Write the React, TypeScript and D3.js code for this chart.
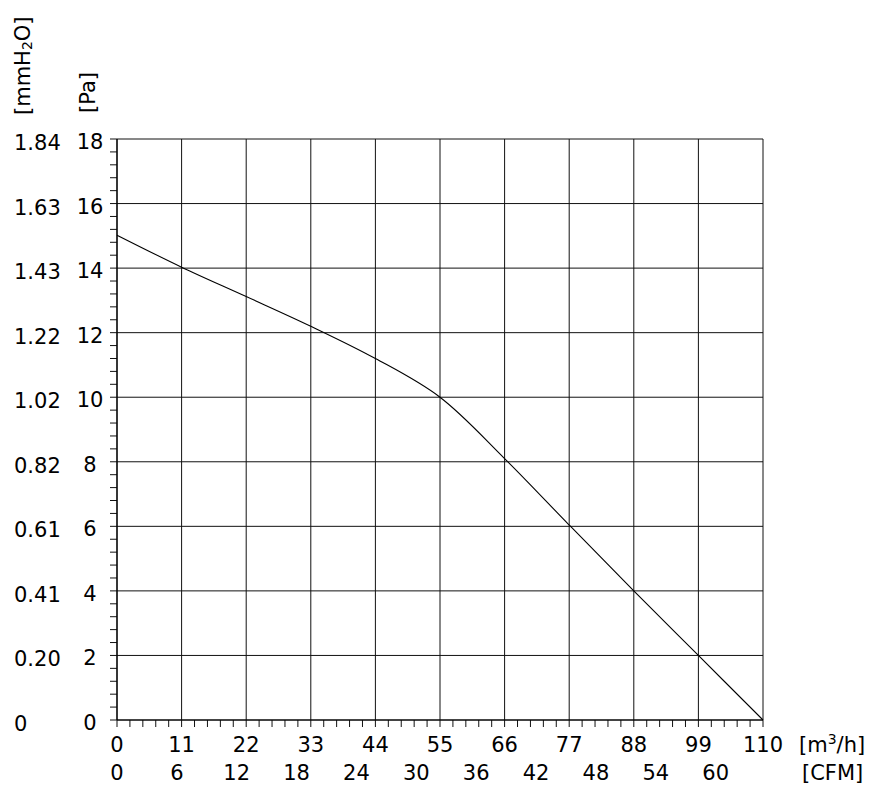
import React from "react";
import * as d3 from "d3";

const flowM3h = [0, 11, 22, 33, 44, 55, 66, 77, 88, 99, 110];
const pressurePa = [15.02, 14.03, 13.12, 12.2, 11.2, 10.0, 8.1, 6.04, 4.0, 2.0, 0];

const xTicksM3h = [0, 11, 22, 33, 44, 55, 66, 77, 88, 99, 110];
const xTicksCFM = [0, 6, 12, 18, 24, 30, 36, 42, 48, 54, 60];
const yTicksPa = [0, 2, 4, 6, 8, 10, 12, 14, 16, 18];
const yLabelsMmH2O = ["0", "0.20", "0.41", "0.61", "0.82", "1.02", "1.22", "1.43", "1.63", "1.84"];

const CFM_TO_M3H = 1.699;

export default function App() {
  const W = 879, H = 791;
  const x = d3.scaleLinear().domain([0, 110]).range([117, 763]);
  const y = d3.scaleLinear().domain([0, 18]).range([720, 139]);
  const font = "'DejaVu Sans', Verdana, sans-serif";
  const fs = 21;

  const minorX = d3.range(0, 110.001, 2.2);
  const minorY = d3.range(0, 18.001, 0.4);

  const line = d3
    .line<number>()
    .x((_, i) => x(flowM3h[i]))
    .y((d) => y(d))
    .curve(d3.curveCatmullRom.alpha(0.5));

  return (
    <svg width={W} height={H} style={{ position: "absolute", left: 0, top: 0 }} fontFamily={font}>
      <rect width={W} height={H} fill="#fff" />
      {/* grid */}
      {xTicksM3h.map((t) => (
        <line key={"gx" + t} x1={x(t)} x2={x(t)} y1={y(18)} y2={y(0)} stroke="#111" strokeWidth={1} />
      ))}
      {yTicksPa.map((t) => (
        <line key={"gy" + t} x1={x(0)} x2={x(110)} y1={y(t)} y2={y(t)} stroke="#111" strokeWidth={1} />
      ))}
      {/* minor ticks */}
      {minorX.map((t, i) => (
        <line key={"mx" + i} x1={x(t)} x2={x(t)} y1={y(0)} y2={y(0) + 7} stroke="#111" strokeWidth={1} />
      ))}
      {minorY.map((t, i) => (
        <line key={"my" + i} x1={x(0) - 7} x2={x(0)} y1={y(t)} y2={y(t)} stroke="#111" strokeWidth={1} />
      ))}
      {/* axes */}
      <line x1={x(0)} x2={x(0)} y1={y(18)} y2={y(0)} stroke="#000" strokeWidth={1.2} />
      <line x1={x(0)} x2={x(110)} y1={y(0)} y2={y(0)} stroke="#000" strokeWidth={1.2} />
      {/* curve */}
      <path d={line(pressurePa) || ""} fill="none" stroke="#000" strokeWidth={1.1} />
      {/* y labels */}
      {yTicksPa.map((t) => (
        <text key={"pa" + t} x={90} y={y(t) + 10} fontSize={fs} textAnchor="middle" fill="#000">
          {t}
        </text>
      ))}
      {yLabelsMmH2O.map((s, i) => (
        <text key={"mm" + i} x={14} y={y(yTicksPa[i]) + 11} fontSize={fs} textAnchor="start" fill="#000">
          {s}
        </text>
      ))}
      {/* x labels */}
      {xTicksM3h.map((t) => (
        <text key={"xm" + t} x={x(t)} y={752} fontSize={fs} textAnchor="middle" fill="#000">
          {t}
        </text>
      ))}
      {xTicksCFM.map((t) => (
        <text key={"xc" + t} x={x(t * CFM_TO_M3H)} y={780} fontSize={fs} textAnchor="middle" fill="#000">
          {t}
        </text>
      ))}
      <text x={799} y={752} fontSize={fs} fill="#000">
        [m<tspan fontSize={14} dy={-8}>3</tspan>
        <tspan dy={8}>/h]</tspan>
      </text>
      <text x={802} y={780} fontSize={fs} fill="#000">
        [CFM]
      </text>
      {/* axis titles */}
      <text transform="translate(30,115) rotate(-90)" fontSize={fs} textAnchor="start" fill="#000">
        [mmH<tspan fontSize={14} dy={2}>2</tspan>
        <tspan dy={-2}>O]</tspan>
      </text>
      <text transform="translate(95,113) rotate(-90)" fontSize={fs} textAnchor="start" fill="#000">
        [Pa]
      </text>
    </svg>
  );
}
